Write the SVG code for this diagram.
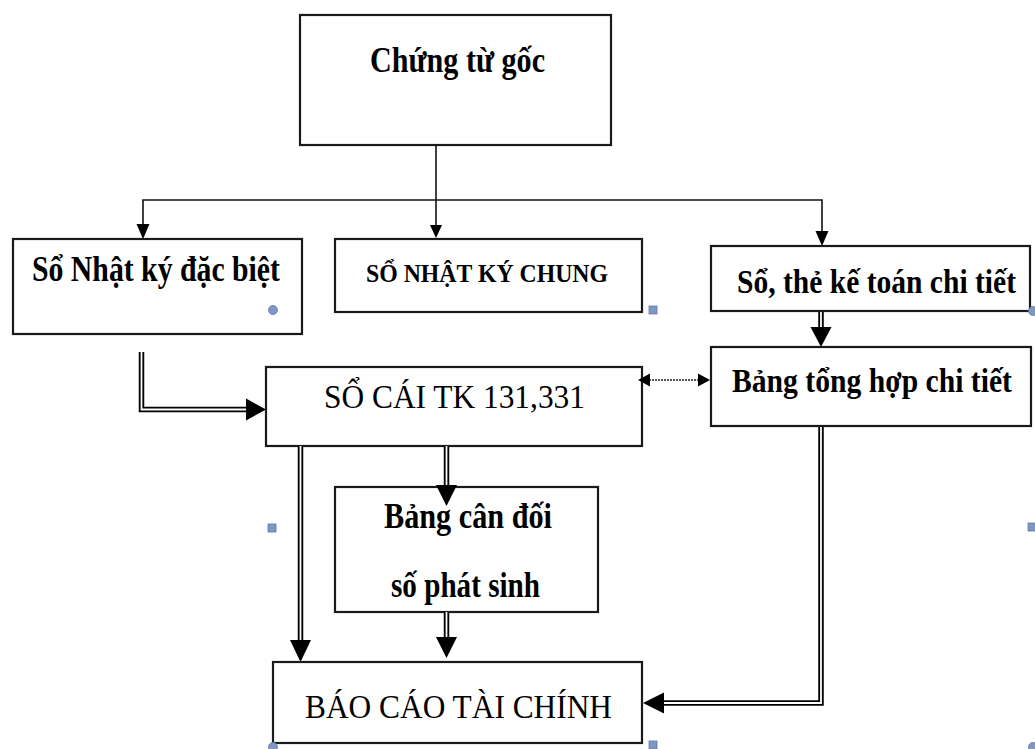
<svg xmlns="http://www.w3.org/2000/svg" width="1035" height="749" viewBox="0 0 1035 749">
  <style>
    .box { fill: #fff; stroke: #1a1a1a; stroke-width: 2.2; }
    .t { font-family: "Liberation Serif", "Times New Roman", serif; fill: #000; }
    .bold { font-weight: bold; }
    .thin { fill: none; stroke: #111; stroke-width: 1.6; }
    .dbl-outer { fill: none; stroke: #000; stroke-width: 5.5; stroke-linejoin: miter; }
    .dbl-inner { fill: none; stroke: #fff; stroke-width: 1.8; stroke-linejoin: miter; }
    .head { fill: #000; }
    .dot { fill: none; stroke: #222; stroke-width: 1.5; stroke-dasharray: 2 1; }
    .handle { fill: #7f97c4; stroke: #5f79a8; stroke-width: 0.8; }
  </style>
  <rect width="1035" height="749" fill="#fff"/>

  <!-- nodes -->
  <g id="chung-tu-goc">
    <rect class="box" x="300" y="15" width="311" height="130"/>
    <text class="t bold" x="370" y="72" font-size="35" textLength="175" lengthAdjust="spacingAndGlyphs">Chứng từ gốc</text>
  </g>
  <g id="so-nhat-ky-dac-biet">
    <rect class="box" x="13" y="239" width="289" height="95"/>
    <text class="t bold" x="32" y="281" font-size="35" textLength="248" lengthAdjust="spacingAndGlyphs">Sổ Nhật ký đặc biệt</text>
  </g>
  <g id="so-nhat-ky-chung">
    <rect class="box" x="335" y="239" width="307" height="73"/>
    <text class="t bold" x="366" y="282" font-size="26" textLength="242" lengthAdjust="spacingAndGlyphs">SỔ NHẬT KÝ CHUNG</text>
  </g>
  <g id="so-the-ke-toan">
    <rect class="box" x="711" y="246" width="319" height="65"/>
    <text class="t bold" x="737" y="293" font-size="33" textLength="279" lengthAdjust="spacingAndGlyphs">Sổ, thẻ kế toán chi tiết</text>
  </g>
  <g id="bang-tong-hop">
    <rect class="box" x="711" y="347" width="320" height="79"/>
    <text class="t bold" x="732" y="392" font-size="33" textLength="280" lengthAdjust="spacingAndGlyphs">Bảng tổng hợp chi tiết</text>
  </g>
  <g id="so-cai">
    <rect class="box" x="266" y="367" width="376" height="79"/>
    <text class="t" x="324" y="408" font-size="33" textLength="261" lengthAdjust="spacingAndGlyphs">SỔ CÁI TK 131,331</text>
  </g>
  <g id="bang-can-doi">
    <rect class="box" x="335" y="487" width="263" height="125"/>
    <text class="t bold" x="384" y="528" font-size="35" textLength="168" lengthAdjust="spacingAndGlyphs">Bảng cân đối</text>
    <text class="t bold" x="391" y="597" font-size="35" textLength="149" lengthAdjust="spacingAndGlyphs">số phát sinh</text>
  </g>
  <g id="bao-cao-tai-chinh">
    <rect class="box" x="273" y="662" width="369" height="81"/>
    <text class="t" x="305" y="718" font-size="34" textLength="307" lengthAdjust="spacingAndGlyphs">BÁO CÁO TÀI CHÍNH</text>
  </g>

  <!-- connectors -->
  <g id="connectors">
    <!-- single-line distribution from the source documents -->
    <path class="thin" d="M436 145 V226"/>
    <path class="thin" d="M143 225 V200 H822 V232"/>
    <polygon class="head" points="436,238 430,225 442,225"/>
    <polygon class="head" points="143,239 136.5,224 149.5,224"/>
    <polygon class="head" points="822,246 815.5,231 828.5,231"/>

    <!-- double-line flows -->
    <path class="dbl-outer" d="M141.5 352 V409.5 H249"/>
    <path class="dbl-inner" d="M141.5 352 V409.5 H249"/>
    <polygon class="head" points="266,409.5 246,398.5 246,420.5"/>

    <path class="dbl-outer" d="M300.5 446 V642"/>
    <path class="dbl-inner" d="M300.5 446 V642"/>
    <polygon class="head" points="300.5,662 290,640 311,640"/>

    <path class="dbl-outer" d="M446.5 446 V487"/>
    <path class="dbl-inner" d="M446.5 446 V487"/>
    <polygon class="head" points="446.5,506 436,485 457,485"/>

    <path class="dbl-outer" d="M446.5 612 V639"/>
    <path class="dbl-inner" d="M446.5 612 V639"/>
    <polygon class="head" points="446.5,658 436,637 457,637"/>

    <path class="dbl-outer" d="M821 312 V329"/>
    <path class="dbl-inner" d="M821 312 V329"/>
    <polygon class="head" points="821,347 810.5,327 831.5,327"/>

    <path class="dbl-outer" d="M821 427 V703 H661"/>
    <path class="dbl-inner" d="M821 427 V703 H661"/>
    <polygon class="head" points="643,703 664,692.5 664,713.5"/>

    <!-- dotted two-way link -->
    <path class="dot" d="M649 380 H699"/>
    <polygon class="head" points="638,380 650,373.5 650,386.5"/>
    <polygon class="head" points="710,380 698,373.5 698,386.5"/>
  </g>

  <!-- selection handles -->
  <g id="handles">
    <circle class="handle" cx="273" cy="310" r="4.5"/>
    <circle class="handle" cx="1033" cy="311" r="4.5"/>
    <circle class="handle" cx="273" cy="747" r="4.5"/>
    <circle class="handle" cx="1033" cy="747" r="4.5"/>
    <rect class="handle" x="649" y="306" width="8" height="8"/>
    <rect class="handle" x="268" y="524" width="8" height="8"/>
    <rect class="handle" x="1028" y="523" width="8" height="8"/>
    <rect class="handle" x="649" y="741" width="8" height="8"/>
  </g>
</svg>
